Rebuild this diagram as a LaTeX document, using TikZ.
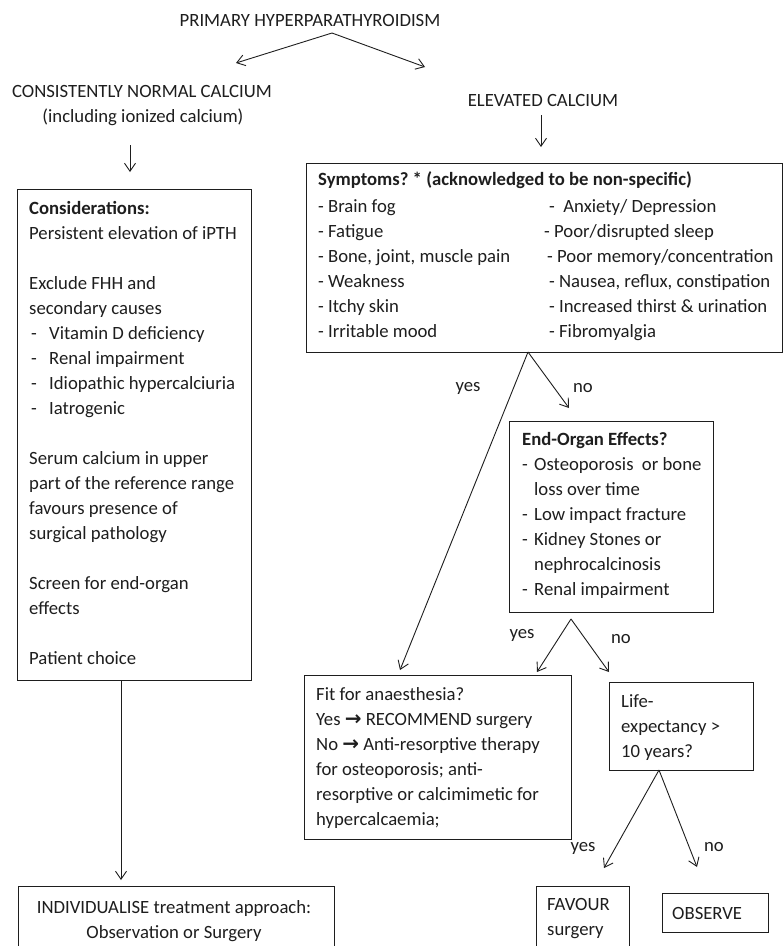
\documentclass[tikz,border=0pt]{standalone}
\usepackage{fontspec}
\setmainfont{Carlito}
\newfontfamily\glyphfont{DejaVu Sans}
\usetikzlibrary{arrows.meta}
\definecolor{ink}{RGB}{30,30,30}
\frenchspacing
\newcommand{\blines}[1]{\begin{tabular}[t]{@{}l@{}}#1\end{tabular}}
\newcommand{\clines}[1]{\begin{tabular}[t]{@{}c@{}}#1\end{tabular}}
\newcommand{\ditem}[1]{\makebox[20pt][l]{\hspace{2pt}-}#1}
\newcommand{\eitem}[1]{\makebox[12pt][l]{-}#1}
\newcommand{\rarr}{{\glyphfont\bfseries\fontsize{20}{25}\selectfont →}}
\tikzset{
  box/.style={draw=ink, line width=1pt, rectangle, inner sep=0pt, anchor=north west},
  txt/.style={anchor=base west, inner sep=0pt, text=ink, font=\fontsize{18.7}{25}\selectfont},
  ctxt/.style={anchor=base, inner sep=0pt, text=ink, font=\fontsize{18.7}{25}\selectfont},
  arr/.style={draw=ink, line width=0.9pt, -{Straight Barb[length=8pt,width=11pt]}},
}
\begin{document}
\begin{tikzpicture}[x=1pt,y=-1pt]
\useasboundingbox (0,0) rectangle (784,946);
\clip (0,0) rectangle (784,946);
\fill[white] (0,0) rectangle (784,946);

% headings
\node[ctxt] (prim) at (310,26) {PRIMARY HYPERPARATHYROIDISM};
\node[ctxt] (norm) at (142,97) {CONSISTENTLY NORMAL CALCIUM};
\node[ctxt] (incl) at (143,122) {(including ionized calcium)};
\node[ctxt] (elev) at (543,106) {ELEVATED CALCIUM};

% boxes
\node[box, minimum width=234pt, minimum height=491pt] (lb) at (17,189) {};
\node[box, minimum width=476pt, minimum height=189pt] (sym) at (306,163) {};
\node[box, minimum width=204pt, minimum height=191pt] (eo) at (509,421) {};
\node[box, minimum width=267pt, minimum height=164pt] (fit) at (304,675) {};
\node[box, minimum width=144pt, minimum height=88pt] (life) at (609,682) {};
\node[box, minimum width=316pt, minimum height=80pt] (ind) at (18,886) {};
\node[box, minimum width=93pt, minimum height=80pt] (fav) at (536,886) {};
\node[box, minimum width=106pt, minimum height=39pt] (obs) at (662,893) {};

% box texts
\node[txt] (lbt) at (29,214) {\blines{%
\textbf{Considerations:}\\
Persistent elevation of iPTH\\[25pt]
Exclude FHH and\\
secondary causes\\
\ditem{Vitamin D deficiency}\\
\ditem{Renal impairment}\\
\ditem{Idiopathic hypercalciuria}\\
\ditem{Iatrogenic}\\[25pt]
Serum calcium in upper\\
part of the reference range\\
favours presence of\\
surgical pathology\\[25pt]
Screen for end-organ\\
effects\\[25pt]
Patient choice}};

\node[txt] (symt) at (318,185) {\textbf{Symptoms? * (acknowledged to be non-specific)}};
\node[txt] (syml) at (318,212) {\blines{%
- Brain fog\\
- Fatigue\\
- Bone, joint, muscle pain\\
- Weakness\\
- Itchy skin\\
- Irritable mood}};
\node[txt] (symr) at (544,212) {\blines{%
\hspace{5pt}-\hspace{8.4pt}Anxiety/ Depression\\
- Poor/disrupted sleep\\
\hspace{3pt}- Poor memory/concentration\\
\hspace{5pt}- Nausea, reflux, constipation\\
\hspace{5pt}- Increased thirst \& urination\\
\hspace{5pt}- Fibromyalgia}};

\node[txt] (eot) at (522,445) {\blines{%
\textbf{End-Organ Effects?}\\
\eitem{Osteoporosis\hspace{0.45em}or bone}\\
\hspace{12pt}loss over time\\
\eitem{Low impact fracture}\\
\eitem{Kidney Stones or}\\
\hspace{12pt}nephrocalcinosis\\
\eitem{Renal impairment}}};

\node[txt] (fitt) at (316,700) {\blines{%
Fit for anaesthesia?\\
Yes \rarr{} RECOMMEND surgery\\
No \rarr{} Anti-resorptive therapy\\
for osteoporosis; anti-\\
resorptive or calcimimetic for\\
hypercalcaemia;}};

\node[txt] (lifet) at (621,707) {\blines{%
Life-\\
expectancy >\\
10 years?}};

\node[ctxt] (indt) at (174,913) {\clines{%
INDIVIDUALISE treatment approach:\\
Observation or Surgery}};

\node[txt] (favt) at (547,910) {\blines{FAVOUR\\surgery}};
\node[txt] (obst) at (672,919) {OBSERVE};

% branch labels
\node[ctxt] (y1) at (468,391) {yes};
\node[ctxt] (n1) at (583,392) {no};
\node[ctxt] (y2) at (522,638) {yes};
\node[ctxt] (n2) at (621,643) {no};
\node[ctxt] (y3) at (583,851) {yes};
\node[ctxt] (n3) at (714,851) {no};

% connector points
\coordinate (pA) at (332,33);
\coordinate (pNorm) at (236,63);
\coordinate (pElev) at (425,67);
\coordinate (eA) at (541,115);
\coordinate (eB) at (541,147);
\coordinate (nA) at (130,145);
\coordinate (nB) at (130,172);
\coordinate (sA) at (528,352);
\coordinate (sYes) at (400,670);
\coordinate (sNo) at (569,408);
\coordinate (oA) at (571,619);
\coordinate (oYes) at (537,672);
\coordinate (oNo) at (609,672);
\coordinate (lA) at (659,770);
\coordinate (lYes) at (604,868);
\coordinate (lNo) at (697,867);
\coordinate (bA) at (121,680);
\coordinate (bB) at (121,880);

\draw[arr] (pA) -- (pNorm);
\draw[arr] (pA) -- (pElev);
\draw[arr] (eA) -- (eB);
\draw[arr] (nA) -- (nB);
\draw[arr] (sA) -- (sYes);
\draw[arr] (sA) -- (sNo);
\draw[arr] (oA) -- (oYes);
\draw[arr] (oA) -- (oNo);
\draw[arr] (lA) -- (lYes);
\draw[arr] (lA) -- (lNo);
\draw[arr] (bA) -- (bB);
\end{tikzpicture}
\end{document}
